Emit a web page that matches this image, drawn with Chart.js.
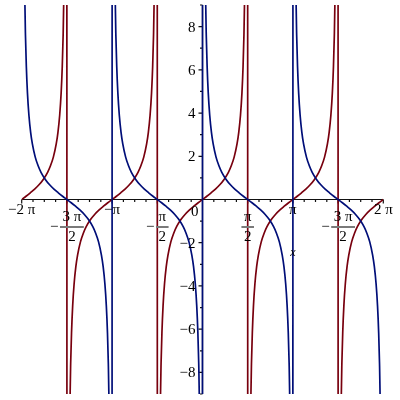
<!DOCTYPE html>
<html lang="en">
<head>
    <meta charset="UTF-8">
    <title>tan(x) and cot(x)</title>
    <script src="https://cdn.jsdelivr.net/npm/chart.js"></script>
    <style>
        html, body { margin: 0; padding: 0; background: #fff; }
        canvas { display: block; }
    </style>
</head>
<body>
    <canvas id="trigChart" width="400" height="400"></canvas>

    <script>
        const PI = Math.PI;

        // One branch of each curve (offset from branch centre, in radians)
        const branchOffsets = [-1.5608, -1.53, -1.5, -1.47, -1.44, -1.41, -1.37, -1.32, -1.26, -1.2, -1.1, -1.0, -0.9, -0.75, -0.6, -0.45, -0.3, -0.15,
                               0, 0.15, 0.3, 0.45, 0.6, 0.75, 0.9, 1.0, 1.1, 1.2, 1.26, 1.32, 1.37, 1.41, 1.44, 1.47, 1.5, 1.53, 1.5608];
        const tanBranch = [-100, -24.5, -14.1, -9.89, -7.6, -6.17, -4.91, -3.9, -3.11, -2.57, -1.96, -1.56, -1.26, -0.93, -0.68, -0.48, -0.31, -0.15,
                           0, 0.15, 0.31, 0.48, 0.68, 0.93, 1.26, 1.56, 1.96, 2.57, 3.11, 3.9, 4.91, 6.17, 7.6, 9.89, 14.1, 24.5, 100];
        const cotBranch = [100, 24.5, 14.1, 9.89, 7.6, 6.17, 4.91, 3.9, 3.11, 2.57, 1.96, 1.56, 1.26, 0.93, 0.68, 0.48, 0.31, 0.15,
                           0, -0.15, -0.31, -0.48, -0.68, -0.93, -1.26, -1.56, -1.96, -2.57, -3.11, -3.9, -4.91, -6.17, -7.6, -9.89, -14.1, -24.5, -100];

        // Branch centres, in multiples of pi
        const tanCentres = [-2, -1, 0, 1, 2];
        const cotCentres = [-1.5, -0.5, 0.5, 1.5];

        // Axis ranges and ticks
        const xRange = [-2 * PI, 2 * PI];
        const yRange = [-9, 9];
        const xTickPos = [-2, -1.5, -1, -0.5, 0.5, 1, 1.5, 2];          // multiples of pi
        const xTickNum = ['\u22122 \u03c0', '3 \u03c0', '\u2212\u03c0', '\u03c0', '\u03c0', '\u03c0', '3 \u03c0', '2 \u03c0'];
        const xTickDen = ['', '2', '', '2', '2', '', '2', ''];
        const xTickNeg = [false, true, false, true, false, false, true, false];
        const yTickLabels = [-8, -6, -4, -2, 2, 4, 6, 8];

        const tanColor = '#78000E';
        const cotColor = '#000E78';
        const labelFont = '15px "Liberation Serif", "DejaVu Serif", serif';

        function buildCurve(centres, values) {
            const points = [];
            centres.forEach(c => {
                branchOffsets.forEach((u, i) => {
                    const x = c * PI + u;
                    if (x >= xRange[0] - 1e-9 && x <= xRange[1] + 1e-9) {
                        points.push({ x: x, y: values[i] });
                    }
                });
            });
            return points;
        }

        // Axes through the origin, Maple style
        const axesPlugin = {
            id: 'mapleAxes',
            beforeDatasetsDraw(chart) {
                const { ctx, scales: { x, y } } = chart;
                const x0 = x.getPixelForValue(0);
                const y0 = y.getPixelForValue(0);
                ctx.save();
                ctx.strokeStyle = '#111';
                ctx.lineWidth = 1.2;
                ctx.beginPath();
                ctx.moveTo(x.left, y0);
                ctx.lineTo(x.right, y0);
                ctx.moveTo(x0, y.top);
                ctx.lineTo(x0, y.bottom);
                // x ticks every pi/8, longer at pi/2
                for (let k = -16; k <= 16; k++) {
                    const px = x.getPixelForValue(k * PI / 8);
                    const len = (k % 4 === 0) ? 4 : 2.5;
                    ctx.moveTo(px, y0);
                    ctx.lineTo(px, y0 + len);
                }
                // y ticks every 1, longer at even values
                for (let v = yRange[0]; v <= yRange[1]; v++) {
                    const py = y.getPixelForValue(v);
                    const len = (v % 2 === 0) ? 4 : 2.5;
                    ctx.moveTo(x0, py);
                    ctx.lineTo(x0 - len, py);
                }
                ctx.stroke();
                ctx.restore();
            },
            afterDatasetsDraw(chart) {
                const { ctx, scales: { x, y } } = chart;
                const x0 = x.getPixelForValue(0);
                const y0 = y.getPixelForValue(0);
                ctx.save();
                ctx.fillStyle = '#000';
                ctx.font = labelFont;
                ctx.textBaseline = 'middle';

                // x tick labels
                xTickPos.forEach((v, i) => {
                    const px = x.getPixelForValue(v * PI);
                    if (!xTickDen[i]) {
                        ctx.textAlign = 'center';
                        ctx.fillText(xTickNum[i], px, y0 + 11);
                        return;
                    }
                    const numW = ctx.measureText(xTickNum[i]).width;
                    const denW = ctx.measureText(xTickDen[i]).width;
                    const barW = Math.max(numW, denW) + 5;
                    const minusW = xTickNeg[i] ? 7 : 0;
                    const gap = xTickNeg[i] ? 3 : 0;
                    const left = px - (minusW + gap + barW) / 2;
                    const barX = left + minusW + gap;
                    const barY = Math.round(y0 + 27);
                    ctx.textAlign = 'center';
                    ctx.fillText(xTickNum[i], barX + barW / 2, y0 + 18);
                    ctx.fillText(xTickDen[i], barX + barW / 2, y0 + 38);
                    ctx.strokeStyle = '#7a7a7a';
                    ctx.lineWidth = 2;
                    ctx.beginPath();
                    ctx.moveTo(barX, barY);
                    ctx.lineTo(barX + barW, barY);
                    ctx.stroke();
                    if (xTickNeg[i]) {
                        ctx.textAlign = 'left';
                        ctx.fillText('\u2212', left, barY);
                    }
                });

                // y tick labels
                ctx.textAlign = 'right';
                yTickLabels.forEach(v => {
                    const py = y.getPixelForValue(v);
                    const txt = v < 0 ? '\u2212' + Math.abs(v) : String(v);
                    ctx.fillText(txt, x0 - 7, py + 1);
                });
                ctx.fillText('0', x0 - 4, y0 + 13);

                // axis label
                ctx.font = 'italic 12px "Liberation Serif", "DejaVu Serif", serif';
                ctx.textAlign = 'center';
                ctx.fillText('x', x.getPixelForValue(PI), y0 + 53);
                ctx.restore();
            }
        };

        const ctx = document.getElementById('trigChart').getContext('2d');
        const chart = new Chart(ctx, {
            type: 'scatter',
            data: {
                datasets: [
                    {
                        label: 'cot(x)',
                        data: buildCurve(cotCentres, cotBranch),
                        showLine: true,
                        borderColor: cotColor,
                        borderWidth: 1.7,
                        pointRadius: 0,
                        cubicInterpolationMode: 'monotone',
                        order: 0
                    },
                    {
                        label: 'tan(x)',
                        data: buildCurve(tanCentres, tanBranch),
                        showLine: true,
                        borderColor: tanColor,
                        borderWidth: 1.7,
                        pointRadius: 0,
                        cubicInterpolationMode: 'monotone',
                        order: 1
                    }
                ]
            },
            options: {
                responsive: false,
                animation: false,
                events: [],
                layout: {
                    padding: { left: 21.7, right: 16.7, top: 5, bottom: 6 }
                },
                plugins: {
                    legend: { display: false },
                    tooltip: { enabled: false }
                },
                scales: {
                    x: { type: 'linear', min: xRange[0], max: xRange[1], display: false },
                    y: { type: 'linear', min: yRange[0], max: yRange[1], display: false }
                }
            },
            plugins: [axesPlugin]
        });
    </script>
</body>
</html>
